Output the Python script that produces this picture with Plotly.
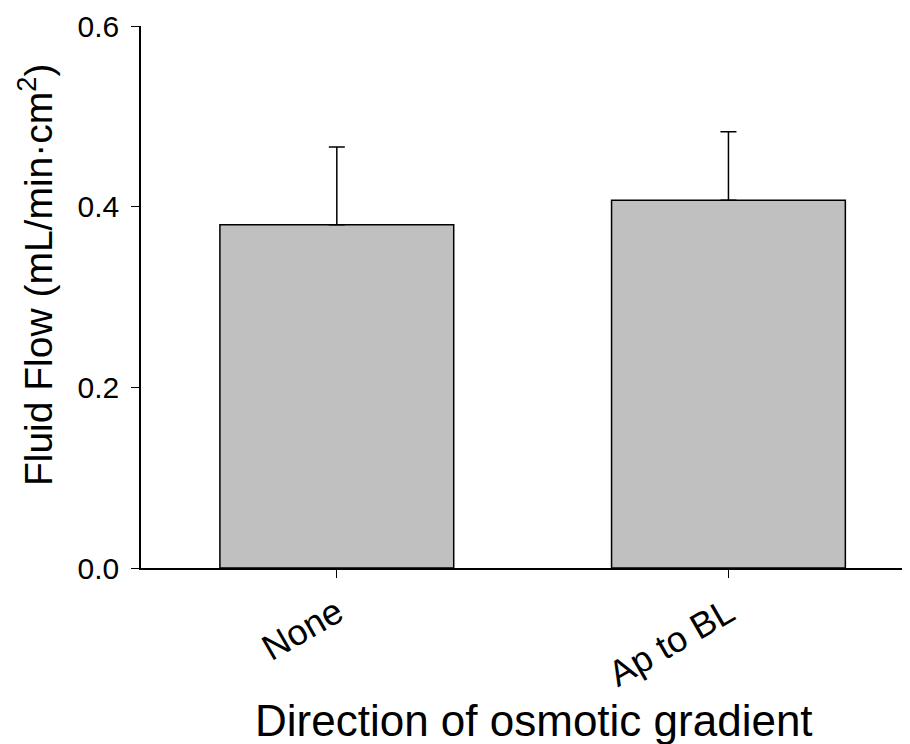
import plotly.graph_objects as go

categories = ["None", "Ap to BL"]
flow_values = [0.380, 0.407]
flow_errors = [0.086, 0.076]
y_ticks = [0.0, 0.2, 0.4, 0.6]
y_tick_labels = ["0.0", "0.2", "0.4", "0.6"]
x_title = "Direction of osmotic gradient"
y_title = "Fluid Flow (mL/min·cm<sup>2</sup>)"

fig = go.Figure()
fig.add_trace(go.Bar(
    x=categories,
    y=flow_values,
    width=0.597,
    marker=dict(color="#c0c0c0", line=dict(color="black", width=1.5)),
    error_y=dict(type="data", array=flow_errors, symmetric=False,
                 arrayminus=[0, 0], color="black", thickness=1.5, width=8),
))

fig.update_layout(
    width=910, height=744,
    margin=dict(l=133, r=0, t=18, b=184),
    paper_bgcolor="white", plot_bgcolor="white",
    font=dict(family="Arial, Liberation Sans, sans-serif", color="black"),
    showlegend=False,
    xaxis=dict(
        type="category",
        range=[-0.5, 1.484],
        automargin=False,
        showline=True, linecolor="black", linewidth=1.5,
        ticks="outside", ticklen=8, tickwidth=1.2, tickcolor="black",
        tickangle=-30,
        tickfont=dict(size=36),
        showgrid=False, zeroline=False,
    ),
    yaxis=dict(
        range=[0, 0.6],
        automargin=False,
        tickvals=y_ticks, ticktext=y_tick_labels,
        showline=True, linecolor="black", linewidth=1.5,
        ticks="outside", ticklen=8, tickwidth=1.2, tickcolor="black",
        tickfont=dict(size=30),
        ticklabelstandoff=6,
        showgrid=False, zeroline=False,
    ),
    annotations=[
        dict(text=x_title, xref="paper", yref="paper", x=0.506, y=-0.282,
             xanchor="center", yanchor="middle", showarrow=False,
             font=dict(size=44)),
        dict(text=y_title, xref="paper", yref="paper", x=-0.136, y=0.541,
             xanchor="center", yanchor="middle", showarrow=False, textangle=-90,
             font=dict(size=39)),
    ],
)

fig.write_html("out.html")
